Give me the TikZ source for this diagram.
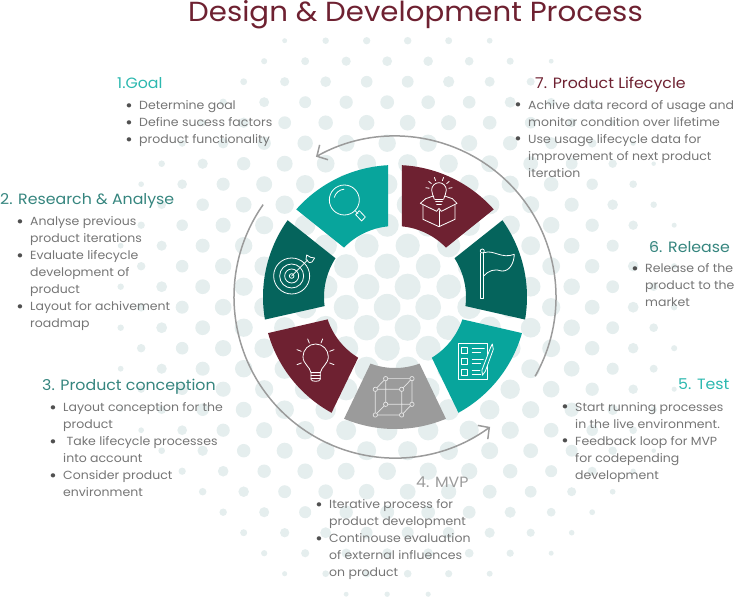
\documentclass[tikz,border=0pt]{standalone}
\usepackage{fontspec}
\setmainfont[FakeStretch=1.06]{Poppins}
\usetikzlibrary{arrows.meta,positioning}

\definecolor{wine}{HTML}{6E2131}
\definecolor{deepteal}{HTML}{05645C}
\definecolor{brightteal}{HTML}{08A59C}
\definecolor{ashgray}{HTML}{9B9B9B}
\definecolor{dotgray}{HTML}{E5EEEE}
\definecolor{headteal}{HTML}{2CB8AF}
\definecolor{headdeep}{HTML}{35857E}
\definecolor{copygray}{HTML}{757575}
\definecolor{bulletgray}{HTML}{505050}

\newcommand{\bul}{\leavevmode\rule{0pt}{10pt}\llap{\textcolor{bulletgray}{\raisebox{-1.6pt}{\fontsize{17}{17}\selectfont\textbullet}}\hspace{6.5pt}}}

\tikzset{
  heading/.style={inner sep=0pt,anchor=base west,font=\fontsize{14.9}{17}\selectfont},
  bodytext/.style={inner sep=0pt,align=left,text=copygray,font=\fontsize{11.8}{17}\selectfont},
  icon/.style={draw=white,line width=0.8pt,line join=round,line cap=round},
  ringarrow/.style={draw=ashgray,line width=1.5pt,-{Straight Barb[length=8pt,width=17pt,line width=1.5pt]}}
}

\begin{document}
\begin{tikzpicture}[x=1pt,y=-1pt]
  \useasboundingbox (0,0) rectangle (736,600);

  % dots
  \foreach \k in {0,...,27} {
    \foreach \j in {0,...,14} {
      \pgfmathsetmacro{\dotx}{120.67+41*\j-20.5*mod(\k+1,2)+20.5}
      \pgfmathsetmacro{\doty}{40.7+20.5*\k}
      \pgfmathsetmacro{\dotd}{veclen(\dotx-397,\doty-308)}
      \pgfmathsetmacro{\dotr}{13.5-0.01716*\dotd-(\dotd/118)^2}
      \pgfmathparse{\dotr>2.2 ? 1 : 0}
      \ifnum\pgfmathresult=1
        \fill[dotgray] (\dotx,\doty) circle[radius=\dotr];
      \fi
    }
  }

  \coordinate (hub) at (395,297);

  % ring
  \begin{scope}[shift={(hub)}]
    \foreach \ang/\col in {-64.29/wine,-12.86/deepteal,38.57/brightteal,90/ashgray,141.43/wine,192.86/deepteal,244.29/brightteal} {
      \fill[\col] (\ang-22.7:132) arc[start angle=\ang-22.7,end angle=\ang+22.7,radius=132]
        -- (\ang+20.2:71) arc[start angle=\ang+20.2,end angle=\ang-20.2,radius=71] -- cycle;
    }
    \draw[ringarrow] (29.5:161) arc[start angle=29.5,end angle=-119.4,radius=161];
    \draw[ringarrow] (215:161) arc[start angle=215,end angle=53.8,radius=161];
  \end{scope}

  % icons
  \begin{scope}[shift={(240,140)},x=0.3333pt,y=-0.3333pt]
    % magnifier
    \draw[icon] (313,180) circle[radius=45];
    \draw[icon] (283,172) arc[start angle=195,end angle=265,radius=33];
    \draw[icon] (345,212) -- (354,221);
    \draw[icon] (347,224) -- (358,212) -- (376,231) -- (365,243) -- cycle;
    % target
    \draw[icon] (155,408) circle[radius=54];
    \draw[icon] (155,408) circle[radius=36];
    \draw[icon] (155,408) circle[radius=21];
    \draw[icon] (155,408) circle[radius=7];
    \draw[icon] (155,408) -- (203,360);
    \draw[icon] (198,358) -- (200,345) -- (212,352) -- (224,354) -- (216,366) -- (208,368) -- cycle;
    % bulb in box
    \draw[icon] (583,178) .. controls (580,165) and (575,162) .. (575,150) arc[start angle=180,end angle=360,radius=22] .. controls (619,162) and (614,165) .. (611,178);
    \draw[icon] (585,178) -- (609,178) (587,185) -- (607,185) (590,192) -- (604,192);
    \foreach \ray in {-170,-140,-110,-70,-40,-10} {
      \draw[icon] ([shift={(\ray:30)}]597,150) -- ([shift={(\ray:40)}]597,150);
    }
    \draw[icon] (549,195) -- (549,238) -- (597,260) -- (645,238) -- (645,195);
    \draw[icon] (597,212) -- (597,260);
    \draw[icon] (557,176) -- (541,190) -- (590,214) -- (597,205) -- (604,214) -- (651,190) -- (637,176);
    \draw[icon] (557,176) -- (580,168) (637,176) -- (614,168);
    % flag
    \draw[icon] (722,340) -- (722,476) -- (731,476) -- (731,340);
    \draw[icon] (727,333) circle[radius=6];
    \draw[icon] (733,338) .. controls (760,328) and (785,358) .. (823,343) .. controls (822,370) and (808,395) .. (785,393) .. controls (765,385) and (745,392) .. (731,408);
    % checklist
    \draw[icon] (654,611) rectangle (743,717);
    \draw[icon] (664,622) rectangle (683,640);
    \draw[icon] (664,655) rectangle (683,674);
    \draw[icon] (664,688) rectangle (683,707);
    \draw[icon] (697,625) -- (733,625) (697,636) -- (722,636) (697,658) -- (730,658) (697,669) -- (722,669) (697,692) -- (720,692) (697,703) -- (722,703);
    \draw[icon,fill=brightteal] (727,706) -- (726,690) -- (752,622) -- (757,612) -- (760,628) -- (736,694) -- cycle;
    % cube
    \draw[icon,line width=0.7pt,draw=white!75!ashgray] (437,716) rectangle (516,793) (406,748) rectangle (485,825)
      (437,716) -- (406,748) (516,716) -- (485,748) (437,793) -- (406,825) (516,793) -- (485,825);
    \foreach \cx/\cy in {437/716,516/716,406/748,485/748,437/793,516/793,406/825,485/825} {
      \draw[icon,line width=0.7pt,draw=white!75!ashgray,fill=ashgray] (\cx,\cy) circle[radius=6.5];
    }
    % bulb
    \draw[icon] (213,698) .. controls (210,680) and (189,672) .. (189,650) arc[start angle=180,end angle=360,radius=38] .. controls (265,672) and (244,680) .. (241,698) -- cycle;
    \draw[icon] (213,698) -- (213,718) .. controls (213,726) and (241,726) .. (241,718) -- (241,698);
    \draw[icon] (213,706) -- (241,706) (213,714) -- (241,714);
    \draw[icon] (203,597) -- (208,609) (248,597) -- (243,609) (171,629) -- (184,634) (282,629) -- (269,634) (171,674) -- (184,669) (282,674) -- (269,669);
  \end{scope}

  \node[inner sep=0pt,anchor=base west,text=wine,font=\fontsize{27.6}{30}\selectfont] (title) at (188,21) {Design \& Development Process};

  \node[heading,text=headteal] (goal) at (117,88) {1.Goal};
  \node[bodytext] (goaltext) [below right=11.5pt and 22pt of goal.base west] {\bul Determine goal\\\bul Define sucess factors\\\bul product functionality};

  \node[heading,text=headdeep] (research) at (0,204) {2. Research \& Analyse};
  \node[bodytext] (researchtext) [below right=11.5pt and 30pt of research.base west] {\bul Analyse previous\\product iterations\\\bul Evaluate lifecycle\\development of\\product\\\bul Layout for achivement\\roadmap};

  \node[heading,text=headdeep] (conception) at (42,390) {3. Product conception};
  \node[bodytext] (conceptiontext) [below right=11.5pt and 21pt of conception.base west] {\bul Layout conception for the\\product\\\bul \ Take lifecycle processes\\into account\\\bul Consider product\\environment};

  \node[heading,text=ashgray] (mvp) at (416,487) {4. MVP};
  \node[bodytext] (mvptext) [below right=11.5pt and -87pt of mvp.base west] {\bul Iterative process for\\product development\\\bul Continouse evaluation\\of external influences\\on product};

  \node[heading,text=headteal] (testing) at (678,389.5) {5. Test};
  \node[bodytext] (testingtext) [below right=11.5pt and -103pt of testing.base west] {\bul Start running processes\\in the live environment.\\\bul Feedback loop for MVP\\for codepending\\development};

  \node[heading,text=headdeep] (release) at (649,252) {6. Release};
  \node[bodytext] (releasetext) [below right=10.5pt and -4pt of release.base west] {\bul Release of the\\product to the\\market};

  \node[heading,text=wine] (lifecycle) at (535,88.5) {7. Product Lifecycle};
  \node[bodytext] (lifecycletext) [below right=10.5pt and -7pt of lifecycle.base west] {\bul Achive data record of usage and\\monitor condition over lifetime\\\bul Use usage lifecycle data for\\improvement of next product\\iteration};
\end{tikzpicture}
\end{document}
